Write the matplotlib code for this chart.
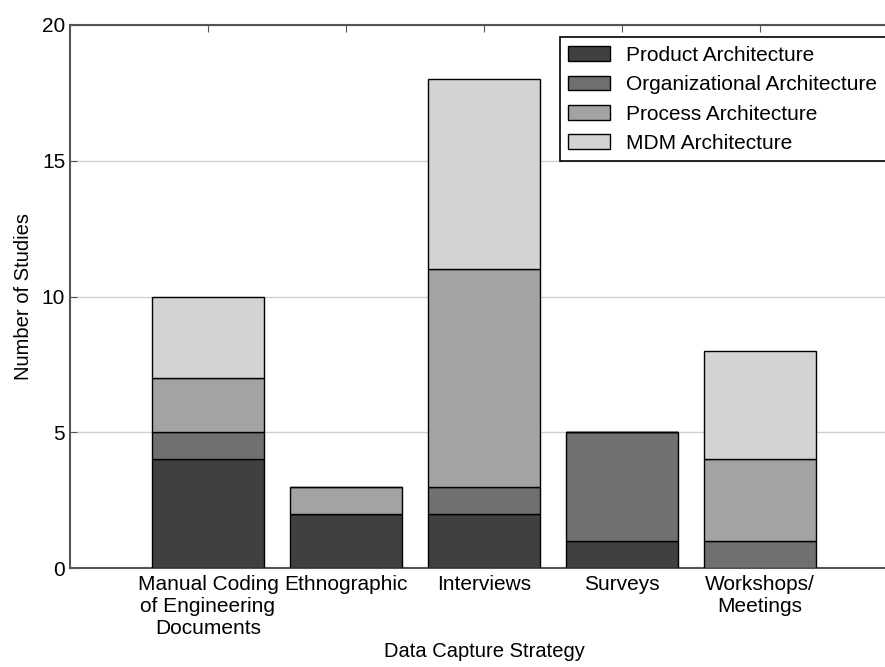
import numpy as np
import matplotlib
matplotlib.use("Agg")
import matplotlib.pyplot as plt

plt.rcParams['font.family'] = ['Liberation Sans', 'DejaVu Sans']

strategies = ["Manual Coding\nof Engineering\nDocuments", "Ethnographic", "Interviews",
              "Surveys", "Workshops/\nMeetings"]
product = [4, 2, 2, 1, 0]
organizational = [1, 0, 1, 4, 1]
process = [2, 1, 8, 0, 3]
mdm = [3, 0, 7, 0, 4]

series = [
    ("Product Architecture", product, "#404040"),
    ("Organizational Architecture", organizational, "#707070"),
    ("Process Architecture", process, "#a3a3a3"),
    ("MDM Architecture", mdm, "#d3d3d3"),
]

fig = plt.figure(figsize=(8.85, 6.67), dpi=100)
ax = fig.add_axes([70 / 885, 99 / 667, 828 / 885, 543 / 667])

x = np.arange(len(strategies))
bottom = np.zeros(len(strategies))
for name, vals, col in series:
    ax.bar(x, vals, width=0.81, bottom=bottom, color=col, edgecolor="black",
           linewidth=1.0, label=name, zorder=3)
    bottom += np.array(vals)

ax.set_xlim(-1, 5)
ax.set_ylim(0, 20)
ax.set_yticks([0, 5, 10, 15, 20])
ax.set_xticks(x)
ax.set_xticklabels(strategies, fontsize=15, linespacing=1.2)
ax.tick_params(axis='y', labelsize=15, direction='in', length=5, right=True, color='#555555')
ax.tick_params(axis='x', direction='in', length=5, top=True, color='#555555', pad=5)
ax.yaxis.grid(True, color='#d0d0d0', linewidth=1, zorder=0)
ax.set_axisbelow(True)
for s in ax.spines.values():
    s.set_color('#555555')
    s.set_linewidth(1.5)

ax.set_xlabel("Data Capture Strategy", fontsize=14.5, labelpad=3)
ax.set_ylabel("Number of Studies", fontsize=14.5, labelpad=6)

leg = ax.legend(loc="upper right", fontsize=15, fancybox=False, framealpha=1,
                edgecolor="black", labelspacing=0.5, borderaxespad=0.6)
leg.get_frame().set_linewidth(1.2)

fig.savefig("out.png", dpi=100)
